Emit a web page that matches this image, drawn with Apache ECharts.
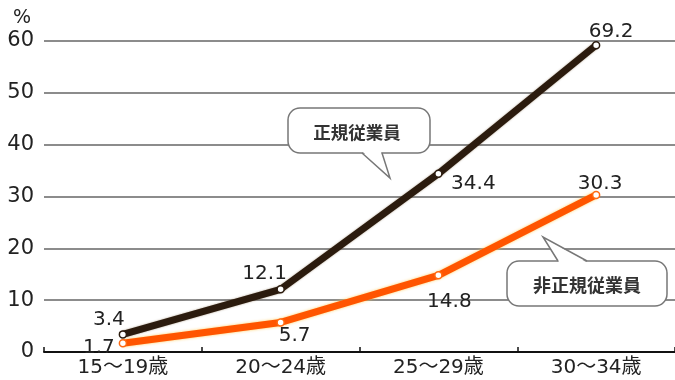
<!DOCTYPE html>
<html><head><meta charset="utf-8">
<script src="https://cdn.jsdelivr.net/npm/echarts@6/dist/echarts.min.js"></script>
<style>html,body{margin:0;padding:0;background:#fff}#c{width:675px;height:380px}</style>
</head><body><div id="c"></div>
<script>
const categories = ['15～19歳', '20～24歳', '25～29歳', '30～34歳'];
const regularValues = [3.4, 12.1, 34.4, 59.2];
const regularLabels = ['3.4', '12.1', '34.4', '69.2'];
const irregularValues = [1.7, 5.7, 14.8, 30.3];
const irregularLabels = ['1.7', '5.7', '14.8', '30.3'];
const yTicks = [0, 10, 20, 30, 40, 50, 60];
const seriesNames = ['正規従業員', '非正規従業員'];

const FONT = '"DejaVu Sans", "Noto Sans CJK JP", sans-serif';
const CJK = '"Noto Sans CJK JP", sans-serif';
const regLabelPos = [[-14, -15], [-16, -15], [35, 10], [15, -13]];
const irrLabelPos = [[-24, 5], [14, 13], [11, 27], [4, -11]];

function mkData(vals, labs, pos) {
  return vals.map((v, i) => ({
    value: v,
    label: { show: true, formatter: labs[i], offset: pos[i], position: 'inside' }
  }));
}

const boxStyle = { fill: '#fff', stroke: '#777', lineWidth: 1.5 };

const chart = echarts.init(document.getElementById('c'));
chart.setOption({
  animation: false,
  backgroundColor: '#fff',
  grid: { left: 44, top: 41, width: 634, height: 311, containLabel: false },
  xAxis: {
    type: 'category', data: categories, boundaryGap: true,
    axisLine: { lineStyle: { color: '#111', width: 2 } },
    axisTick: { show: true, length: 5, inside: true, lineStyle: { color: '#111', width: 1.5 } },
    axisLabel: { color: '#222', fontSize: 20, fontFamily: FONT, margin: 6 }
  },
  yAxis: {
    type: 'value', min: yTicks[0], max: yTicks[yTicks.length - 1], interval: 10,
    axisLine: { show: false }, axisTick: { show: false },
    axisLabel: { color: '#222', fontSize: 21, fontFamily: FONT, margin: 10 },
    splitLine: { lineStyle: { color: '#666', width: 1.6 } }
  },
  series: [
    {
      name: seriesNames[0], type: 'line',
      data: mkData(regularValues, regularLabels, regLabelPos),
      lineStyle: { color: '#2b1b0e', width: 7, shadowColor: 'rgba(90,60,20,0.5)', shadowBlur: 2 },
      itemStyle: { color: '#fff', borderColor: '#2b1b0e', borderWidth: 1.5 },
      symbol: 'circle', symbolSize: 7,
      label: { color: '#222', fontSize: 20, fontFamily: FONT },
      z: 3
    },
    {
      name: seriesNames[1], type: 'line',
      data: mkData(irregularValues, irregularLabels, irrLabelPos),
      lineStyle: { color: '#ff5500', width: 7, shadowColor: 'rgba(255,200,80,0.9)', shadowBlur: 3 },
      itemStyle: { color: '#fff', borderColor: '#ff6a10', borderWidth: 1.5 },
      symbol: 'circle', symbolSize: 7,
      label: { color: '#222', fontSize: 20, fontFamily: FONT },
      z: 2
    }
  ],
  graphic: [
    { type: 'text', left: 13, top: 9, style: { text: '%', fontSize: 19, fill: '#222', fontFamily: FONT } },
    { type: 'rect', z: 10, shape: { x: 288, y: 108, width: 142, height: 45, r: 12 }, style: boxStyle },
    { type: 'polygon', z: 11, shape: { points: [[363, 152], [390, 178], [381, 152]] }, style: { fill: '#fff' } },
    { type: 'polyline', z: 12, shape: { points: [[362, 153], [390, 178], [382, 153]] }, style: { stroke: '#777', lineWidth: 1.5, fill: null } },
    { type: 'text', z: 13, x: 357, y: 132, style: { text: seriesNames[0], fontSize: 17.5, fontWeight: 'bold', fill: '#333', fontFamily: CJK, align: 'center', verticalAlign: 'middle' } },
    { type: 'rect', z: 10, shape: { x: 507, y: 261, width: 160, height: 45, r: 12 }, style: boxStyle },
    { type: 'polygon', z: 11, shape: { points: [[559, 262], [543, 237], [586, 262]] }, style: { fill: '#fff' } },
    { type: 'polyline', z: 12, shape: { points: [[558, 261], [543, 237], [587, 261]] }, style: { stroke: '#777', lineWidth: 1.5, fill: null } },
    { type: 'text', z: 13, x: 587, y: 285, style: { text: seriesNames[1], fontSize: 18, fontWeight: 'bold', fill: '#333', fontFamily: CJK, align: 'center', verticalAlign: 'middle' } }
  ]
});
</script></body></html>
